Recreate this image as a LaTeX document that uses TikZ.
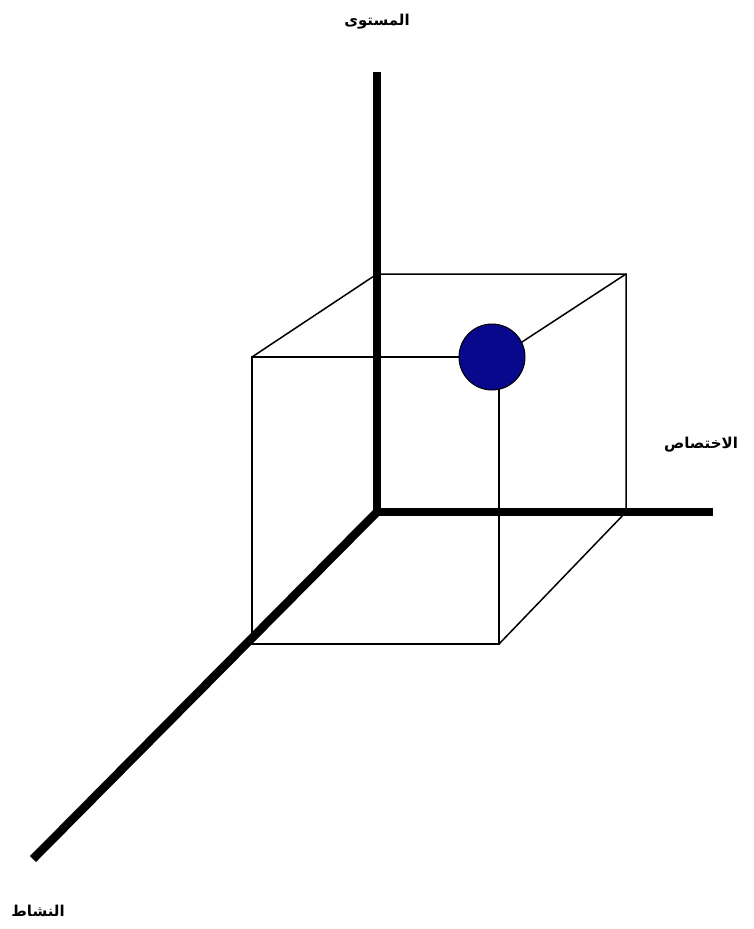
\documentclass[tikz,border=0pt]{standalone}
\usepackage{fontspec}
\newfontfamily\arabicfont[Script=Arabic]{DejaVu Sans}
\TeXXeTstate=1
\definecolor{dotblue}{RGB}{8,8,140}

\begin{document}
\begin{tikzpicture}[x=1pt,y=-1pt,
    axis/.style={line width=8.5pt},
    edge/.style={line width=1.5pt},
    axlabel/.style={font=\arabicfont\bfseries\fontsize{15}{18}\selectfont, inner sep=0pt}]
    \useasboundingbox (0,0) rectangle (753,929);

    % axes
    \coordinate (O) at (377,512);
    \coordinate (Z) at (377,72);
    \coordinate (Y) at (713,512);
    \coordinate (X) at (33,859);

    % cube corners
    \coordinate (A) at (252,357);
    \coordinate (B) at (499,357);
    \coordinate (C) at (499,644);
    \coordinate (D) at (252,644);
    \coordinate (E) at (377,274);
    \coordinate (F) at (626,274);
    \coordinate (G) at (626,512);

    % cube edges
    \draw [edge] (A) -- (B) -- (C) -- (D) -- cycle;
    \draw [edge] (A) -- (E) -- (F) -- (G);
    \draw [edge] (B) -- (F);
    \draw [edge] (C) -- (G);

    % axes
    \draw [axis] (Z) -- (O) -- (Y);
    \draw [axis] (O) -- (X);

    % point
    \fill [dotblue, draw=black, line width=1pt] (492,357) circle (33);

    % labels
    \node [axlabel] (lz) at (377,22) {\beginR المستوى\endR};
    \node [axlabel] (ly) at (701,445) {\beginR الاختصاص\endR};
    \node [axlabel] (lx) at (38,911) {\beginR النشاط\endR};
\end{tikzpicture}
\end{document}
